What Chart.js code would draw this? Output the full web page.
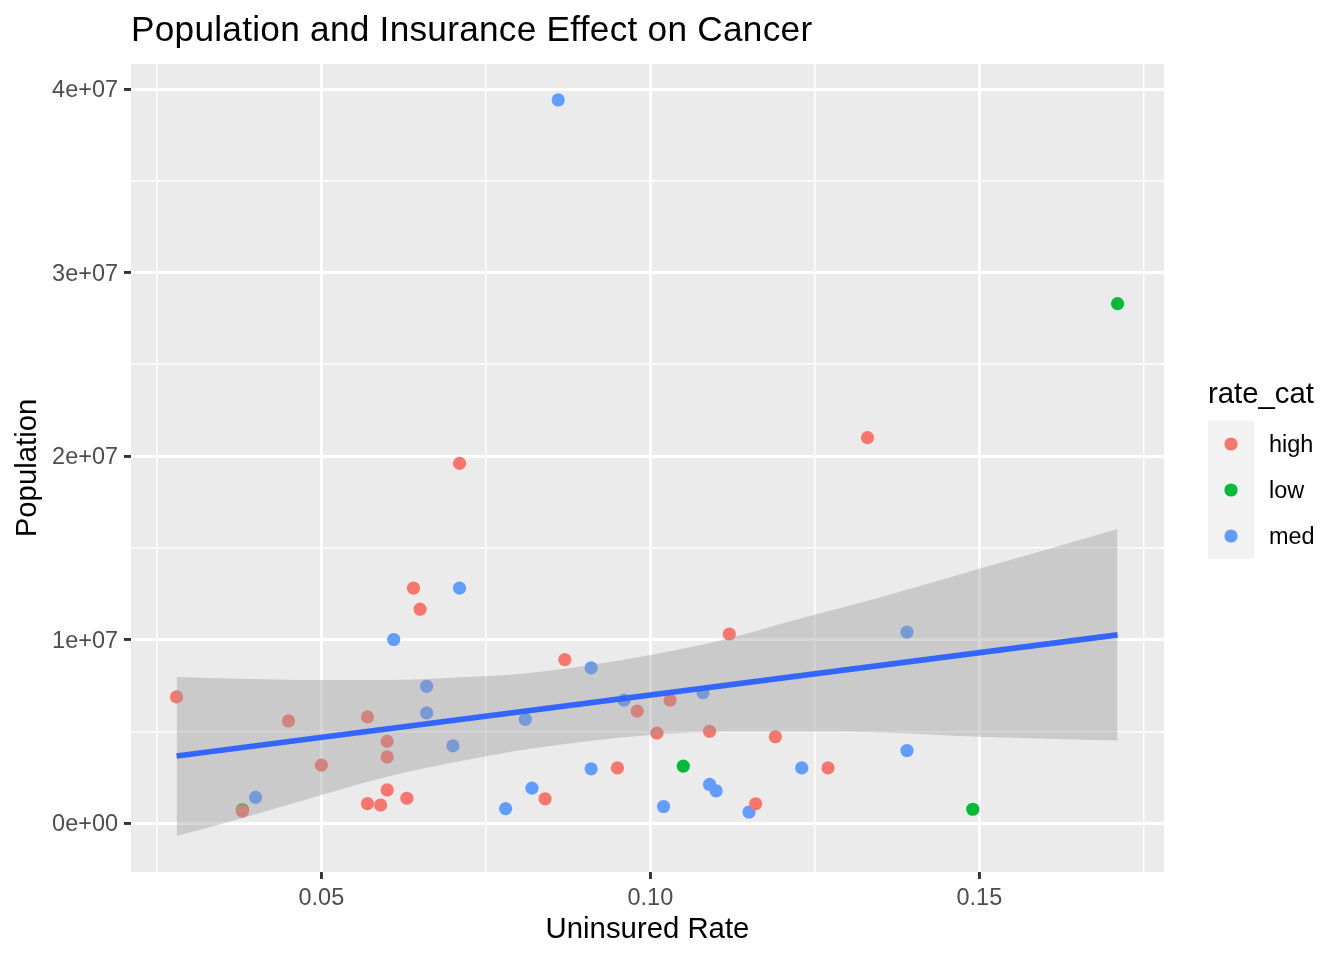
<!DOCTYPE html>
<html>
<head>
<meta charset="utf-8">
<title>Population and Insurance Effect on Cancer</title>
<script src="https://cdn.jsdelivr.net/npm/chart.js@4"></script>
<style>
  html, body { margin: 0; padding: 0; background: #fff; }
  canvas { display: block; }
</style>
</head>
<body>
<canvas id="myChart" width="1344" height="960"></canvas>
<script>
const highX = [0.028, 0.038, 0.045, 0.05, 0.057, 0.057, 0.059, 0.06, 0.06, 0.06, 0.063, 0.064, 0.065, 0.071, 0.084, 0.087, 0.095, 0.098, 0.101, 0.103, 0.109, 0.112, 0.116, 0.119, 0.127, 0.133];
const highY = [6.87e6, 0.65e6, 5.56e6, 3.15e6, 5.78e6, 1.06e6, 0.98e6, 4.45e6, 3.6e6, 1.8e6, 1.35e6, 12.8e6, 11.65e6, 19.6e6, 1.32e6, 8.9e6, 3.0e6, 6.1e6, 4.9e6, 6.7e6, 5.0e6, 10.3e6, 1.05e6, 4.7e6, 3.0e6, 21.0e6];

const lowX = [0.038, 0.105, 0.149, 0.171];
const lowY = [0.72e6, 3.1e6, 0.75e6, 28.3e6];

const medX = [0.04, 0.061, 0.066, 0.066, 0.07, 0.071, 0.078, 0.081, 0.082, 0.086, 0.091, 0.091, 0.096, 0.102, 0.108, 0.109, 0.11, 0.115, 0.123, 0.139, 0.139];
const medY = [1.4e6, 10.0e6, 7.45e6, 6.0e6, 4.2e6, 12.8e6, 0.78e6, 5.65e6, 1.9e6, 39.4e6, 8.45e6, 2.95e6, 6.7e6, 0.9e6, 7.1e6, 2.1e6, 1.75e6, 0.6e6, 3.0e6, 10.4e6, 3.95e6];

const fitX = [0.028, 0.171];
const fitY = [3.65e6, 10.25e6];

const bandX = [0.028, 0.036, 0.05, 0.06, 0.072, 0.082, 0.1, 0.112, 0.122, 0.135, 0.15, 0.171];
const bandUpper = [7.96e6, 7.88e6, 7.79e6, 7.79e6, 7.95e6, 8.19e6, 9.16e6, 10.07e6, 11.06e6, 12.3e6, 13.85e6, 16.02e6];
const bandLower = [-0.71e6, 0.07e6, 1.53e6, 2.52e6, 3.43e6, 4.06e6, 4.8e6, 4.97e6, 4.97e6, 4.93e6, 4.7e6, 4.49e6];

const xTicks = [0.025, 0.05, 0.075, 0.1, 0.125, 0.15, 0.175];
const xTickLabels = ['', '0.05', '', '0.10', '', '0.15', ''];
const yTicks = [0, 5e6, 1e7, 1.5e7, 2e7, 2.5e7, 3e7, 3.5e7, 4e7];
const yTickLabels = ['0e+00', '', '1e+07', '', '2e+07', '', '3e+07', '', '4e+07'];

const legendTitle = 'rate_cat';
const legendNames = ['high', 'low', 'med'];
const legendColors = ['#F8766D', '#00BA38', '#619CFF'];

const toPoints = (xs, ys) => xs.map((x, i) => ({ x, y: ys[i] }));
const FONT = '"Liberation Sans", Arial, sans-serif';

const pointSet = (label, xs, ys, color, order) => ({
  label,
  data: toPoints(xs, ys),
  backgroundColor: color,
  borderWidth: 0,
  pointRadius: 6.6,
  pointHoverRadius: 6.6,
  order,
});

// panel background, title and legend
const ggDecor = {
  id: 'ggDecor',
  beforeDraw(chart) {
    const { ctx, chartArea: a } = chart;
    ctx.save();
    ctx.fillStyle = '#EBEBEB';
    ctx.fillRect(a.left, a.top, a.right - a.left, a.bottom - a.top);
    ctx.restore();
    // canvas middle baseline sits a bit high, nudge the y labels down
    chart.scales.y.getLabelItems().forEach((item) => {
      item.textOffset = 2;
    });
  },
  afterDraw(chart) {
    const { ctx } = chart;
    ctx.save();
    ctx.textBaseline = 'alphabetic';
    ctx.fillStyle = '#000';
    ctx.font = `35.2px ${FONT}`;
    ctx.letterSpacing = '0.27px';
    ctx.fillText('Population and Insurance Effect on Cancer', 131, 41);
    ctx.letterSpacing = '0px';
    ctx.font = `29.33px ${FONT}`;
    ctx.fillText(legendTitle, 1208, 403);
    ctx.fillStyle = '#F2F2F2';
    ctx.fillRect(1208, 421, 46, 138);
    ctx.font = `23.47px ${FONT}`;
    legendNames.forEach((name, i) => {
      const cy = 444 + i * 46;
      ctx.fillStyle = legendColors[i];
      ctx.beginPath();
      ctx.arc(1231, cy, 6.6, 0, Math.PI * 2);
      ctx.fill();
      ctx.fillStyle = '#000';
      ctx.fillText(name, 1269, cy + 8);
    });
    ctx.restore();
  },
};

const myChart = new Chart(document.getElementById('myChart'), {
  type: 'scatter',
  data: {
    datasets: [
      pointSet('low', lowX, lowY, legendColors[1], 6),
      pointSet('med', medX, medY, legendColors[2], 5),
      pointSet('high', highX, highY, legendColors[0], 4),
      {
        label: 'upper',
        data: toPoints(bandX, bandUpper),
        showLine: true,
        cubicInterpolationMode: 'monotone',
        pointRadius: 0,
        borderWidth: 0,
        borderColor: 'rgba(0,0,0,0)',
        backgroundColor: 'rgba(153,153,153,0.4)',
        fill: { target: 4 },
        order: 2,
      },
      {
        label: 'lower',
        data: toPoints(bandX, bandLower),
        showLine: true,
        cubicInterpolationMode: 'monotone',
        pointRadius: 0,
        borderWidth: 0,
        borderColor: 'rgba(0,0,0,0)',
        fill: false,
        order: 3,
      },
      {
        label: 'fit',
        data: toPoints(fitX, fitY),
        showLine: true,
        pointRadius: 0,
        borderWidth: 5.7,
        borderColor: '#3366FF',
        fill: false,
        order: 1,
      },
    ],
  },
  options: {
    responsive: false,
    animation: false,
    devicePixelRatio: 1,
    events: [],
    layout: { padding: { top: 64, right: 180, left: 0, bottom: 0 } },
    plugins: {
      legend: { display: false },
      tooltip: { enabled: false },
    },
    scales: {
      x: {
        type: 'linear',
        min: 0.02107,
        max: 0.17806,
        afterBuildTicks: (scale) => {
          scale.ticks = xTicks.map((value) => ({ value }));
        },
        afterFit: (scale) => {
          scale.height = 88;
        },
        border: { display: false },
        grid: {
          color: '#fff',
          lineWidth: (c) => (c.index % 2 ? 2.9 : 1.45),
          tickColor: (c) => (c.index % 2 ? '#333' : 'rgba(0,0,0,0)'),
          tickWidth: 2.9,
          tickLength: 7,
        },
        ticks: {
          autoSkip: false,
          maxRotation: 0,
          padding: 5,
          color: '#4D4D4D',
          font: { family: FONT, size: 23.47 },
          callback: (value, index) => xTickLabels[index],
        },
        title: {
          display: true,
          text: 'Uninsured Rate',
          color: '#000',
          font: { family: FONT, size: 29.33 },
          padding: { top: 5, bottom: 12 },
        },
      },
      y: {
        type: 'linear',
        min: -2.67e6,
        max: 41.36e6,
        afterBuildTicks: (scale) => {
          scale.ticks = yTicks.map((value) => ({ value }));
        },
        afterFit: (scale) => {
          scale.width = 131;
        },
        border: { display: false },
        grid: {
          color: '#fff',
          lineWidth: (c) => (c.index % 2 ? 1.45 : 2.9),
          tickColor: (c) => (c.index % 2 ? 'rgba(0,0,0,0)' : '#333'),
          tickWidth: 2.9,
          tickLength: 7,
        },
        ticks: {
          autoSkip: false,
          padding: 6,
          color: '#4D4D4D',
          font: { family: FONT, size: 23.47 },
          callback: (value, index) => yTickLabels[index],
        },
        title: {
          display: true,
          text: 'Population',
          color: '#000',
          font: { family: FONT, size: 29.33 },
          padding: { top: 10, bottom: 5 },
        },
      },
    },
  },
  plugins: [ggDecor],
});
</script>
</body>
</html>
